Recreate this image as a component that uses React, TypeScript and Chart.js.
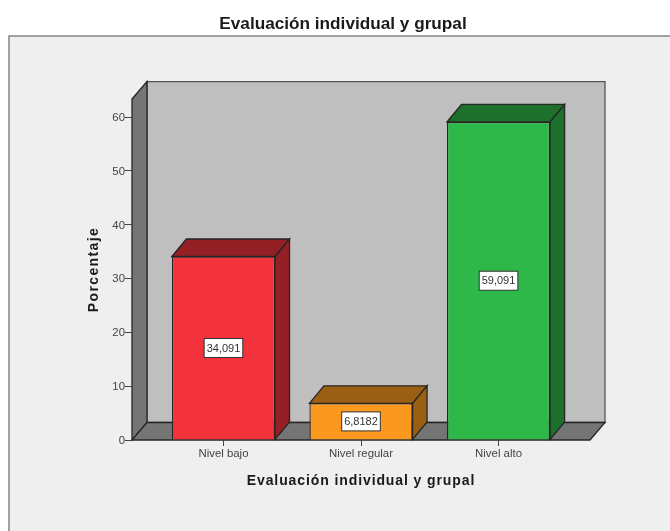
import React, { useEffect, useRef } from "react";
import { Chart, registerables } from "chart.js";

Chart.register(...registerables);

const chartTitle = "Evaluación individual y grupal";
const xAxisTitle = "Evaluación individual y grupal";
const yAxisTitle = "Porcentaje";
const categories = ["Nivel bajo", "Nivel regular", "Nivel alto"];
const percentages = [34.091, 6.8182, 59.091];
const valueLabels = ["34,091", "6,8182", "59,091"];
const frontColors = ["#F3333B", "#FB991F", "#2FB84A"];
const shadeColors = ["#941F24", "#9A5F13", "#1D712D"];

const DEPTH_X = 14.5;
const DEPTH_Y = 17.5;
const LINE = "#262626";
const FONT = "'Liberation Sans', Arial, sans-serif";

function poly(ctx: CanvasRenderingContext2D, pts: number[][], fill: string, stroke: string, lw = 1.3) {
  ctx.beginPath();
  pts.forEach((p, i) => (i ? ctx.lineTo(p[0], p[1]) : ctx.moveTo(p[0], p[1])));
  ctx.closePath();
  ctx.fillStyle = fill;
  ctx.fill();
  ctx.lineWidth = lw;
  ctx.strokeStyle = stroke;
  ctx.stroke();
}

const scene = {
  id: "scene",
  beforeDraw(chart: any) {
    const { ctx, width, height, chartArea: a } = chart;
    ctx.save();
    ctx.fillStyle = "#FFFFFF";
    ctx.fillRect(0, 0, width, height);
    ctx.fillStyle = "#EFEFEF";
    ctx.fillRect(9, 36, width - 9, height - 36);
    ctx.strokeStyle = "#858585";
    ctx.lineWidth = 1.5;
    ctx.beginPath();
    ctx.moveTo(9, height);
    ctx.lineTo(9, 36);
    ctx.lineTo(width, 36);
    ctx.stroke();

    const dx = DEPTH_X + 0.5;
    const dy = DEPTH_Y;
    poly(ctx, [[a.left + dx, a.top - dy], [a.right + dx, a.top - dy], [a.right + dx, a.bottom - dy], [a.left + dx, a.bottom - dy]], "#BFBFBF", "#555555", 1.3);
    poly(ctx, [[a.left, a.top], [a.left + dx, a.top - dy], [a.left + dx, a.bottom - dy], [a.left, a.bottom]], "#757575", LINE, 1.3);
    poly(ctx, [[a.left, a.bottom], [a.left + dx, a.bottom - dy], [a.right + dx, a.bottom - dy], [a.right, a.bottom]], "#757575", LINE, 1.3);
    ctx.restore();

    // wider tracking on the two axis titles
    const tracking: Record<string, string> = { x: "0.9px", y: "1.4px" };
    for (const key of ["x", "y"]) {
      const s = chart.scales[key];
      if (!s.__spaced) {
        const orig = s.drawTitle;
        s.drawTitle = function (...args: any[]) {
          ctx.save();
          ctx.letterSpacing = tracking[key];
          orig.apply(this, args);
          ctx.restore();
        };
        s.__spaced = true;
      }
    }
  },
  beforeDatasetsDraw(chart: any) {
    const { ctx } = chart;
    ctx.save();
    chart.getDatasetMeta(0).data.forEach((bar: any, i: number) => {
      const p = bar.getProps(["x", "y", "base", "width"], true);
      const l = p.x - p.width / 2;
      const r = p.x + p.width / 2;
      poly(ctx, [[l, p.y], [l + DEPTH_X, p.y - DEPTH_Y], [r + DEPTH_X, p.y - DEPTH_Y], [r, p.y]], shadeColors[i], LINE);
      poly(ctx, [[r, p.y], [r + DEPTH_X, p.y - DEPTH_Y], [r + DEPTH_X, p.base - DEPTH_Y], [r, p.base]], shadeColors[i], LINE);
    });
    ctx.restore();
  },
  afterDatasetsDraw(chart: any) {
    const { ctx } = chart;
    ctx.save();
    ctx.font = `11px ${FONT}`;
    ctx.textAlign = "center";
    ctx.textBaseline = "middle";
    chart.getDatasetMeta(0).data.forEach((bar: any, i: number) => {
      const p = bar.getProps(["x", "y", "base"], true);
      const cy = (p.y + p.base) / 2;
      const w = ctx.measureText(valueLabels[i]).width + 5;
      const h = 19;
      ctx.fillStyle = "#FFFFFF";
      ctx.strokeStyle = "#333333";
      ctx.lineWidth = 1;
      ctx.fillRect(p.x - w / 2, cy - h / 2, w, h);
      ctx.strokeRect(p.x - w / 2, cy - h / 2, w, h);
      ctx.fillStyle = "#333333";
      ctx.fillText(valueLabels[i], p.x, cy + 0.5);
    });
    ctx.restore();
  },
};

export default function App() {
  const ref = useRef<HTMLCanvasElement>(null);
  useEffect(() => {
    const chart = new Chart(ref.current!, {
      type: "bar",
      data: {
        datasets: [
          {
            data: percentages.map((y, x) => ({ x, y })),
            backgroundColor: frontColors,
            borderColor: LINE,
            borderWidth: 1.3,
            barPercentage: 1,
            categoryPercentage: 0.75,
          },
        ],
      },
      options: {
        responsive: false,
        animation: false,
        devicePixelRatio: 1,
        layout: { padding: { left: 96, right: 80, top: 0, bottom: 41 } },
        plugins: {
          legend: { display: false },
          tooltip: { enabled: false },
          title: {
            display: true,
            text: chartTitle,
            color: "#1a1a1a",
            font: { family: FONT, size: 17.2, weight: "bold" },
            padding: { top: 14, bottom: 64.4 },
          },
        },
        scales: {
          x: {
            type: "linear",
            offset: false,
            min: -0.665,
            max: 2.665,
            afterBuildTicks: (s: any) => {
              s.ticks = categories.map((_, value) => ({ value }));
            },
            afterFit: (s: any) => {
              s.height = 50;
            },
            border: { display: false },
            grid: { offset: false, drawOnChartArea: false, drawTicks: true, tickLength: 6, color: "#444444" },
            ticks: {
              callback: (v: any) => categories[v],
              color: "#444444",
              font: { family: FONT, size: 11.4 },
              padding: 1,
              maxRotation: 0,
              autoSkip: false,
            },
            title: {
              display: true,
              text: xAxisTitle,
              color: "#1a1a1a",
              font: { family: FONT, size: 14, weight: "bold" },
              padding: 0,
            },
          },
          y: {
            min: 0,
            max: 63.35,
            afterFit: (s: any) => {
              s.width = 36;
            },
            border: { display: false },
            grid: { drawOnChartArea: false, drawTicks: true, tickLength: 7, color: "#444444" },
            ticks: {
              stepSize: 10,
              includeBounds: false,
              color: "#444444",
              font: { family: FONT, size: 11.4 },
              padding: 0,
              labelOffset: 0.7,
            },
            title: {
              display: true,
              text: yAxisTitle,
              color: "#1a1a1a",
              font: { family: FONT, size: 14, weight: "bold" },
              padding: { top: -10.4, bottom: 0 },
            },
          },
        },
      },
      plugins: [scene],
    } as any);
    return () => chart.destroy();
  }, []);
  return (
    <canvas
      ref={ref}
      width={670}
      height={531}
      style={{ position: "fixed", left: 0, top: 0, display: "block", filter: "blur(0.35px)" }}
    />
  );
}
